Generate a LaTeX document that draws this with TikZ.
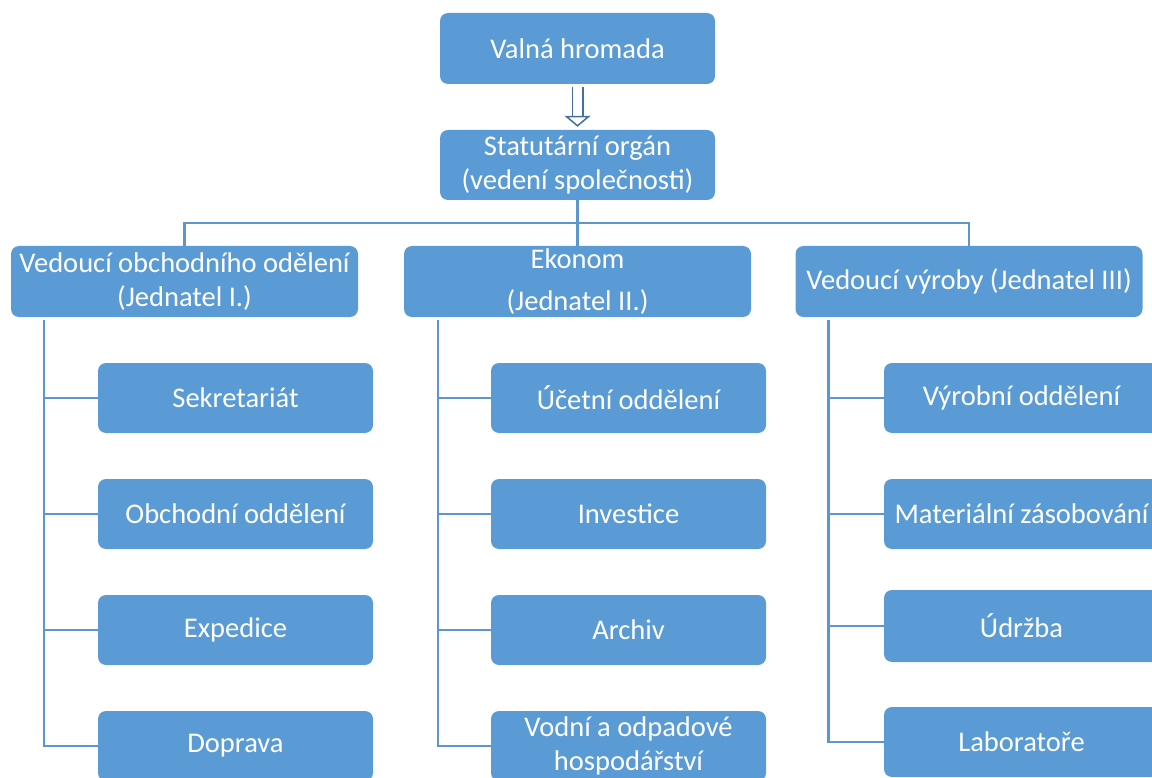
\documentclass[tikz,border=0pt]{standalone}
\usepackage{fontspec}
\setmainfont{Carlito}
\usepackage{tikz}
\usetikzlibrary{calc, arrows.meta}
\tikzset{>=latex}
\definecolor{boxblue}{RGB}{91, 155, 213}
\definecolor{lineblue}{RGB}{91, 150, 205}
\definecolor{arrowblue}{RGB}{65, 113, 156}
\tikzset{
  box/.style = {rectangle, rounded corners = 8pt, fill = boxblue, text = white, align = center,
    minimum width = 275pt, minimum height = 71pt, inner sep = 0pt,
    font = \fontsize{28.5}{34}\selectfont},
  headbox/.style = {box, minimum width = 347pt},
  conn/.style = {draw = lineblue, line width = 2.4pt}
}
\begin{document}
\begin{tikzpicture}[x = 1pt, y = -1pt]
\useasboundingbox (0, 0) rectangle (1152, 778);
\clip (0, 0) rectangle (1152, 778);
\node[box] (valna) at (577.5, 48.5) {Valná hromada};
\node[box, minimum height = 70pt] (stat) at (577.5, 165) {Statutární orgán\\(vedení společnosti)};
\node[headbox] (obchod) at (184.5, 281.5) {Vedoucí obchodního odělení\\(Jednatel I.)};
\node[headbox] (ekonom) at (577.5, 281.5) {Ekonom\\[8pt](Jednatel II.)};
\node[headbox] (vyroba) at (969, 281.5) {Vedoucí výroby (Jednatel III)};
\node[box, minimum height = 70pt] (sekr) at (235.5, 398) {Sekretariát};
\node[box, minimum height = 70pt] (obchodni) at (235.5, 514) {Obchodní oddělení};
\node[box, minimum height = 70pt] (exped) at (235.5, 630) {Expedice};
\node[box, minimum height = 70pt] (doprava) at (235.5, 746) {Doprava};
\node[box, minimum height = 70pt] (ucetni) at (628.5, 398) {Účetní oddělení};
\node[box, minimum height = 70pt] (invest) at (628.5, 514) {Investice};
\node[box, minimum height = 70pt] (archiv) at (628.5, 630) {Archiv};
\node[box, minimum height = 70pt] (vodni) at (628.5, 746) {Vodní a odpadové\\hospodářství};
\node[box, minimum height = 70pt] (vyrobni) at (1021.5, 398) {Výrobní oddělení};
\node[box, minimum height = 70pt] (material) at (1021.5, 514) {Materiální zásobování};
\node[box, minimum height = 72pt] (udrzba) at (1021.5, 626) {Údržba};
\node[box, minimum height = 70pt] (labor) at (1021.5, 742) {Laboratoře};
\draw[draw = arrowblue, line width = 1.5pt, double = white, double distance = 9pt,
  -{Triangle[open, width = 26pt, length = 11pt]}, shorten < = 3pt, shorten > = 3pt]
  (valna.south) -- (stat.north);
\coordinate (bus) at ($(stat.south) + (0, 23)$);
\draw[conn] (stat.south) -- (bus) -- (ekonom.north);
\draw[conn] (obchod.north) |- (bus) -| (vyroba.north);
\coordinate (t1) at ($(obchod.south west) + (33, 3)$);
\coordinate (t2) at ($(ekonom.south west) + (34, 3)$);
\coordinate (t3) at ($(vyroba.south west) + (33, 3)$);
\foreach \c in {sekr, obchodni, exped, doprava}
  \draw[conn] (t1) |- (\c.west);
\foreach \c in {ucetni, invest, archiv, vodni}
  \draw[conn] (t2) |- (\c.west);
\foreach \c in {vyrobni, material, udrzba, labor}
  \draw[conn] (t3) |- (\c.west);
\end{tikzpicture}
\end{document}
